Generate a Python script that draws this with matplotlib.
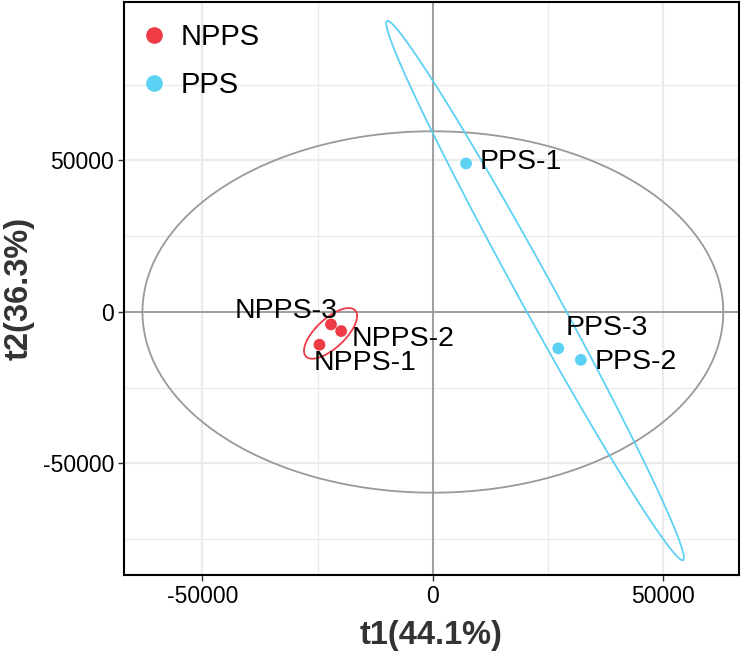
import numpy as np
import matplotlib
matplotlib.use("Agg")
import matplotlib.pyplot as plt
from matplotlib.lines import Line2D

plt.rcParams['font.family'] = ['Liberation Sans', 'DejaVu Sans']

# ---- data ----
samples = ["NPPS-1", "NPPS-2", "NPPS-3", "PPS-1", "PPS-2", "PPS-3"]
groups = ["NPPS", "NPPS", "NPPS", "PPS", "PPS", "PPS"]
t1 = [-24600, -19900, -22100, 7200, 32100, 27200]
t2 = [-10800, -6300, -4100, 49000, -15800, -12000]
group_names = ["NPPS", "PPS"]
group_colors = ["#EF3B45", "#5DD1F4"]
xlabel = "t1(44.1%)"
ylabel = "t2(36.3%)"
xticks = [-50000, 0, 50000]
yticks = [-50000, 0, 50000]
xminor = [-25000, 25000]
yminor = [-75000, -25000, 25000, 75000]
xlim = (-67000, 66400)
ylim = (-86800, 102300)

CHI2_95_2DF = -2.0 * np.log(0.05)

# label offsets in pixels (dx, dy, ha)
label_offsets = {
    "NPPS-1": (-6, -18, "left"),
    "NPPS-2": (10, -8, "left"),
    "NPPS-3": (7, 13, "right"),
    "PPS-1": (14, 2, "left"),
    "PPS-2": (14, -2, "left"),
    "PPS-3": (7, 20, "left"),
}

t1 = np.array(t1, float)
t2 = np.array(t2, float)
groups_arr = np.array(groups)

fig = plt.figure(figsize=(7.42, 6.51), dpi=100)
ax = fig.add_axes([124/742, 76/651, 615/742, 573/651])
ax.set_xlim(*xlim)
ax.set_ylim(*ylim)

# grid
ax.set_xticks(xticks)
ax.set_yticks(yticks)
ax.set_xticks(xminor, minor=True)
ax.set_yticks(yminor, minor=True)
ax.grid(True, which="major", color="#EBEBEB", lw=1.6, zorder=0)
ax.grid(True, which="minor", color="#EBEBEB", lw=0.9, zorder=0)
ax.set_axisbelow(True)
ax.tick_params(which="minor", length=0)
ax.tick_params(which="major", length=4, width=1, color="#333333",
               labelsize=16.5, labelcolor="black", pad=3)
ax.set_xticklabels([str(v) for v in xticks])
ax.set_yticklabels([str(v) for v in yticks])

# zero lines
ax.axhline(0, color="#999999", lw=1.3, zorder=1)
ax.axvline(0, color="#999999", lw=1.3, zorder=1)

# Hotelling-type ellipse over all scores
theta = np.linspace(0, 2*np.pi, 400)
r = np.sqrt(CHI2_95_2DF)
ax.plot(r*t1.std(ddof=1)*np.cos(theta), r*t2.std(ddof=1)*np.sin(theta),
        color="#999999", lw=1.3, zorder=2)

# group confidence ellipses
for g, c in zip(group_names, group_colors):
    m = groups_arr == g
    xs, ys = t1[m], t2[m]
    cov = np.cov(np.vstack([xs, ys]))
    vals, vecs = np.linalg.eigh(cov)
    circ = np.vstack([np.cos(theta), np.sin(theta)])
    pts = vecs @ (np.sqrt(vals)[:, None] * r * circ)
    ax.plot(xs.mean() + pts[0], ys.mean() + pts[1], color=c, lw=1.3, zorder=3)
    ax.scatter(xs, ys, s=72, color=c, edgecolor="none", zorder=4)

# labels
for s, x, y in zip(samples, t1, t2):
    dx, dy, ha = label_offsets[s]
    ax.annotate(s, (x, y), xytext=(dx, dy), textcoords="offset pixels",
                ha=ha, va="center", fontsize=20.5, color="black", zorder=5)

# legend
handles = [Line2D([], [], ls="none", marker="o", markersize=12,
                  markerfacecolor=c, markeredgecolor="none") for c in group_colors]
ax.legend(handles, group_names, loc="upper left", bbox_to_anchor=(0.0256, 0.963),
          frameon=False, fontsize=21, handletextpad=0.4, labelspacing=0.68,
          handlelength=1.0, borderaxespad=0, borderpad=0)

for sp in ax.spines.values():
    sp.set_color("black")
    sp.set_linewidth(1.5)

ax.set_xlabel(xlabel, fontsize=23.5, fontweight="bold", color="#333333", labelpad=9)
ax.set_ylabel(ylabel, fontsize=23.5, fontweight="bold", color="#333333", labelpad=6)

fig.savefig("out.png", dpi=100)
